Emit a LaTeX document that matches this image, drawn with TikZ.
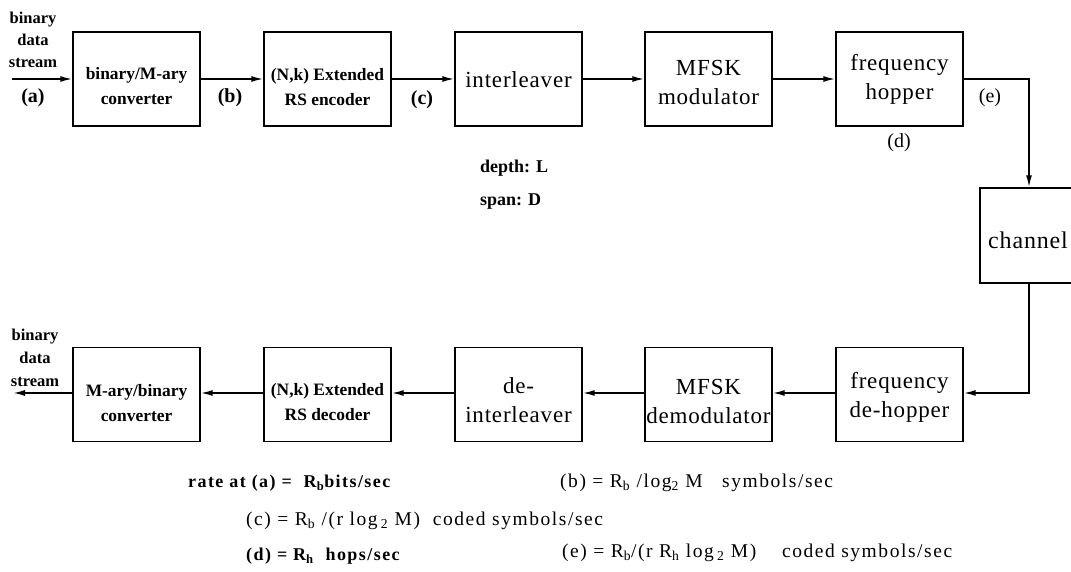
\documentclass[tikz,border=0pt]{standalone}
\usepackage{fontspec}
\setmainfont{Liberation Serif}
\newfontfamily\blockfont[LetterSpace=3.5]{Liberation Serif}
\newfontfamily\ratefont[LetterSpace=8]{Liberation Serif}
\usetikzlibrary{arrows.meta,calc}

\begin{document}
\begin{tikzpicture}[x=1pt,y=-1pt,
  blk/.style={draw, line width=1.4pt, minimum width=127pt, minimum height=94pt, inner sep=0pt},
  big/.style={font=\fontsize{23}{29}\selectfont\blockfont, align=center, inner sep=0pt},
  small/.style={font=\fontsize{17.4}{25}\selectfont\bfseries, align=center, inner sep=0pt},
  tag/.style={font=\fontsize{20}{22}\selectfont\bfseries, inner sep=0pt},
  tagr/.style={font=\fontsize{20}{22}\selectfont, inner sep=0pt},
  note/.style={font=\fontsize{18}{22}\selectfont\bfseries, inner sep=0pt, anchor=west},
  rate/.style={font=\fontsize{19.5}{22}\selectfont\ratefont, inner sep=0pt, anchor=west},
  ratebf/.style={font=\fontsize{18}{22}\selectfont\ratefont\bfseries, inner sep=0pt, anchor=west},
  flow/.style={line width=1.6pt, -{Latex[length=12pt,width=6pt]}}
]
\useasboundingbox (0,0) rectangle (1071,572);

% transmitter chain
\node[blk] (conv) at (136.5,79) {};
\node[blk] (enc)  at (327.5,79) {};
\node[blk] (intl) at (518.5,79) {};
\node[blk] (mod)  at (708.5,79) {};
\node[blk] (hop)  at (899.5,79) {};

% channel
\node[blk, minimum width=98pt, minimum height=95pt] (chan) at (1029,235.5) {};

% receiver chain
\node[blk] (dhop)  at (899.5,394.5) {};
\node[blk] (dmod)  at (708.5,394.5) {};
\node[blk] (dintl) at (518.5,394.5) {};
\node[blk] (dec)   at (327.5,394.5) {};
\node[blk] (iconv) at (136.5,394.5) {};

% block texts
\node[small] at ($(conv.center)+(0,7)$) {binary/M-ary\\converter};
\node[small] at ($(enc.center)+(0,8)$) {(N,k) Extended\\RS encoder};
\node[big]   at ($(intl.center)+(0,1)$) {interleaver};
\node[big]   at ($(mod.center)+(0,3)$) {MFSK\\modulator};
\node[big]   at ($(hop.center)+(0,0)$) {frequency\\hopper};
\node[big, font=\fontsize{24}{29}\selectfont\blockfont, anchor=west] at (988,240) {channel};
\node[big]   at ($(dhop.center)+(0,3)$) {frequency\\de-hopper};
\node[big]   at ($(dmod.center)+(0,7)$) {MFSK\\demodulator};
\node[big]   at ($(dintl.center)+(0,6)$) {de-\\interleaver};
\node[small] at ($(dec.center)+(0,8)$) {(N,k) Extended\\RS decoder};
\node[small] at ($(iconv.center)+(0,9)$) {M-ary/binary\\converter};

% stream ends
\coordinate (src) at (12,79);
\coordinate (snk) at (13,393);
\node[small, font=\fontsize{16.5}{22}\selectfont\bfseries] at (33,40) {binary\\data\\stream};
\node[small, font=\fontsize{16.5}{23}\selectfont\bfseries] at (35,358) {binary\\data\\stream};

% connectors
\draw[flow] (src) -- (conv.west);
\draw[flow] (conv) -- (enc);
\draw[flow] (enc) -- (intl);
\draw[flow] (intl) -- (mod);
\draw[flow] (mod) -- (hop);
\draw[flow] (hop.east) -| (chan.north);
\draw[flow] (chan.south) |- ($(dhop.east)+(0,-1.5)$);
\draw[flow] ($(dhop.west)+(0,-1.5)$) -- ($(dmod.east)+(0,-1.5)$);
\draw[flow] ($(dmod.west)+(0,-1.5)$) -- ($(dintl.east)+(0,-1.5)$);
\draw[flow] ($(dintl.west)+(0,-1.5)$) -- ($(dec.east)+(0,-1.5)$);
\draw[flow] ($(dec.west)+(0,-1.5)$) -- ($(iconv.east)+(0,-1.5)$);
\draw[flow] ($(iconv.west)+(0,-1.5)$) -- (snk);

% rate points
\node[tag] at (33,98) {(a)};
\node[tag] at (230,98) {(b)};
\node[tag] at (422,100) {(c)};
\node[tagr] at (899,143) {(d)};
\node[tagr] at (990,98) {(e)};

% interleaver parameters
\node[note] at (480,168) {depth: L};
\node[note] at (480,202) {span: D};

% rates
\node[ratebf] at (188,483) {rate at (a) = \ R\textsubscript{b}bits/sec};
\node[rate] at (560,483) {(b) = R\textsubscript{b} /log\textsubscript{2} M \ \ symbols/sec};
\node[rate] at (246,521) {(c) = R\textsubscript{b} /(r log\,\textsubscript{2} M) \ coded symbols/sec};
\node[ratebf] at (246,556) {(d) = R\textsubscript{h} \ hops/sec};
\node[rate] at (562,553) {(e) = R\textsubscript{b}/(r R\textsubscript{h} log\,\textsubscript{2} M) \ \ \ coded symbols/sec};
\end{tikzpicture}
\end{document}
